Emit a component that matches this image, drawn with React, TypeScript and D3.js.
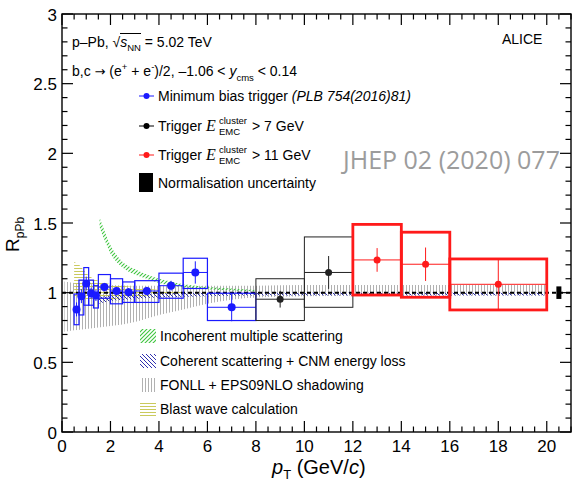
import React from "react";
import * as d3 from "d3";

// ---------- data ----------
const blueBinLo = [0.5, 0.7, 0.9, 1.1, 1.3, 1.5, 2.0, 2.5, 3.0, 4.0, 5.0, 6.0];
const blueBinHi = [0.7, 0.9, 1.1, 1.3, 1.5, 2.0, 2.5, 3.0, 4.0, 5.0, 6.0, 8.0];
const bluePt = [0.6, 0.8, 1.0, 1.2, 1.4, 1.75, 2.25, 2.75, 3.5, 4.5, 5.5, 7.0];
const blueR = [0.88, 0.975, 1.065, 0.995, 0.98, 1.04, 1.012, 1.003, 1.012, 1.05, 1.145, 0.895];
const blueStat = [0.05, 0.05, 0.05, 0.04, 0.04, 0.03, 0.03, 0.03, 0.03, 0.035, 0.08, 0.1];
const blueSysLo = [0.77, 0.84, 0.91, 0.91, 0.89, 0.96, 0.92, 0.93, 0.93, 0.96, 1.03, 0.80];
const blueSysHi = [0.99, 1.09, 1.18, 1.09, 1.05, 1.13, 1.10, 1.077, 1.086, 1.14, 1.247, 0.996];

const blackBinLo = [8, 10];
const blackBinHi = [10, 12];
const blackPt = [9, 11];
const blackR = [0.953, 1.145];
const blackStat = [0.06, 0.118];
const blackSysLo = [0.80, 0.895];
const blackSysHi = [1.10, 1.40];

const redBinLo = [12, 14, 16];
const redBinHi = [14, 16, 20];
const redPt = [13, 15, 18];
const redR = [1.235, 1.204, 1.06];
const redStat = [0.085, 0.12, 0.18];
const redSysLo = [0.983, 0.967, 0.876];
const redSysHi = [1.49, 1.434, 1.242];

const normPt = 20.5;
const normLo = 0.955;
const normHi = 1.045;

// models
const incohPt = [1.55, 1.7, 1.85, 2.0, 2.25, 2.5, 2.75, 3.0, 3.5, 4.0, 4.5, 5.0, 5.5, 6.0, 7.0, 8.0];
const incohHi = [1.54, 1.47, 1.40, 1.34, 1.27, 1.22, 1.19, 1.17, 1.13, 1.10, 1.08, 1.06, 1.05, 1.04, 1.03, 1.02];
const incohLo = [1.47, 1.40, 1.34, 1.28, 1.22, 1.18, 1.15, 1.13, 1.10, 1.07, 1.05, 1.04, 1.03, 1.025, 1.015, 1.01];

const cohPt = [1.5, 2, 3, 4, 6, 8, 12, 16, 20];
const cohLo = [0.92, 0.94, 0.955, 0.965, 0.975, 0.98, 0.98, 0.98, 0.98];
const cohHi = [0.97, 0.98, 0.99, 0.995, 1.0, 1.0, 1.0, 1.0, 1.0];

const fonllPt = [0.1, 0.5, 1, 1.5, 2, 3, 4, 5, 6, 7, 8, 10, 14, 20];
const fonllLo = [0.72, 0.73, 0.74, 0.75, 0.76, 0.79, 0.84, 0.88, 0.92, 0.95, 0.965, 0.975, 0.98, 0.98];
const fonllHi = [1.08, 1.07, 1.06, 1.06, 1.055, 1.05, 1.05, 1.05, 1.05, 1.05, 1.05, 1.055, 1.055, 1.055];

const blastPt = [0.5, 0.7, 1.0, 1.3, 1.6, 2.0, 2.5, 3.0, 3.5, 4.0, 5.0];
const blastLo = [0.97, 0.96, 0.95, 0.95, 0.95, 0.955, 0.96, 0.97, 0.98, 0.985, 0.99];
const blastHi = [1.22, 1.2, 1.14, 1.1, 1.08, 1.06, 1.05, 1.04, 1.03, 1.02, 1.01];

const xTicks = [0, 2, 4, 6, 8, 10, 12, 14, 16, 18, 20];
const yTicks = [0, 0.5, 1, 1.5, 2, 2.5, 3];
const yTickLabels = ["0", "0.5", "1", "1.5", "2", "2.5", "3"];

const triggerThresholds = ["> 7 GeV", "> 11 GeV"];
const modelLabels = [
  "Incoherent multiple scattering",
  "Coherent scattering + CNM energy loss",
  "FONLL + EPS09NLO shadowing",
  "Blast wave calculation",
];
const modelFills = ["url(#hGreen)", "url(#hBlue)", "url(#hGray)", "url(#hYellow)"];

// ---------- layout ----------
const W = 577, H = 490;
const L = 62, R = 571, T = 14, B = 432;
const x = d3.scaleLinear().domain([0, 21]).range([L, R]);
const y = d3.scaleLinear().domain([0, 3]).range([B, T]);

const FONT = "'Liberation Sans', Arial, Helvetica, sans-serif";
const SERIF = "'Liberation Serif', 'Times New Roman', serif";
const BLUE = "#1a1aff";
const RED = "#ff1a1a";

function band(pt: number[], lo: number[], hi: number[]) {
  const pts = pt.map((p, i) => ({ p, lo: lo[i], hi: hi[i] }));
  return d3.area<any>().x((d) => x(d.p)).y0((d) => y(d.lo)).y1((d) => y(d.hi)).curve(d3.curveMonotoneX)(pts) || "";
}

function Series({ lo, hi, pt, r, stat, sLo, sHi, color, boxW, lineW, rad }: any) {
  return (
    <g>
      {pt.map((p: number, i: number) => (
        <g key={i}>
          <rect x={x(lo[i])} y={y(sHi[i])} width={x(hi[i]) - x(lo[i])} height={y(sLo[i]) - y(sHi[i])}
            fill="none" stroke={color} strokeWidth={boxW} />
          <line x1={x(lo[i])} x2={x(hi[i])} y1={y(r[i])} y2={y(r[i])} stroke={color} strokeWidth={lineW} />
          <line x1={x(p)} x2={x(p)} y1={y(r[i] - stat[i])} y2={y(r[i] + stat[i])} stroke={color} strokeWidth={lineW} />
          <circle cx={x(p)} cy={y(r[i])} r={rad} fill={color} />
        </g>
      ))}
    </g>
  );
}

export default function App() {
  const xMinor = d3.range(0, 21.01, 0.5);
  const yMinor = d3.range(0, 3.001, 0.1);
  const legY = [96, 126, 155];
  const modY = [336, 361, 385, 409];
  return (
    <svg width={W} height={H} style={{ position: "absolute", left: 0, top: 0, background: "#fff" }} fontFamily={FONT}>
      <defs>
        <clipPath id="plotClip"><rect x={L} y={T} width={R - L} height={B - T} /></clipPath>
        <pattern id="hGreen" patternUnits="userSpaceOnUse" width="4" height="4">
          <path d="M-1,1 l2,-2 M0,4 l4,-4 M3,5 l2,-2" stroke="#3fc43f" strokeWidth="1.1" />
        </pattern>
        <pattern id="hBlue" patternUnits="userSpaceOnUse" width="4" height="4">
          <path d="M-1,3 l2,2 M0,0 l4,4 M3,-1 l2,2" stroke="#3030b0" strokeWidth="1" />
        </pattern>
        <pattern id="hGray" patternUnits="userSpaceOnUse" width="3" height="3">
          <line x1="1.5" y1="0" x2="1.5" y2="3" stroke="#a8a8a8" strokeWidth="0.9" />
        </pattern>
        <pattern id="hYellow" patternUnits="userSpaceOnUse" width="3" height="3">
          <line x1="0" y1="1.5" x2="3" y2="1.5" stroke="#c4c44a" strokeWidth="0.9" />
        </pattern>
      </defs>

      {/* model bands */}
      <g clipPath="url(#plotClip)">
        <path d={band(fonllPt, fonllLo, fonllHi)} fill="url(#hGray)" />
        <path d={band(blastPt, blastLo, blastHi)} fill="url(#hYellow)" />
        <path d={band(cohPt, cohLo, cohHi)} fill="url(#hBlue)" />
        <path d={band(incohPt, incohLo, incohHi)} fill="url(#hGreen)" />
        <line x1={L} x2={R} y1={y(1)} y2={y(1)} stroke="#000" strokeWidth={2} strokeDasharray="4 3" />
      </g>

      {/* data */}
      <Series lo={blueBinLo} hi={blueBinHi} pt={bluePt} r={blueR} stat={blueStat} sLo={blueSysLo} sHi={blueSysHi}
        color={BLUE} boxW={1.2} lineW={1} rad={4} />
      <Series lo={blackBinLo} hi={blackBinHi} pt={blackPt} r={blackR} stat={blackStat} sLo={blackSysLo} sHi={blackSysHi}
        color="#222" boxW={1} lineW={1} rad={3.5} />
      <Series lo={redBinLo} hi={redBinHi} pt={redPt} r={redR} stat={redStat} sLo={redSysLo} sHi={redSysHi}
        color={RED} boxW={2.8} lineW={1} rad={3.5} />
      <rect x={x(normPt) - 2.5} y={y(normHi)} width={5} height={y(normLo) - y(normHi)} fill="#000" />

      {/* frame & ticks */}
      <rect x={L} y={T} width={R - L} height={B - T} fill="none" stroke="#000" strokeWidth={1.4} />
      {xMinor.map((v, i) => {
        const major = Math.abs(v / 2 - Math.round(v / 2)) < 1e-6;
        const len = major ? 11 : 5.5;
        return (
          <g key={"xt" + i} stroke="#000" strokeWidth={1.2}>
            <line x1={x(v)} x2={x(v)} y1={B} y2={B - len} />
            <line x1={x(v)} x2={x(v)} y1={T} y2={T + len} />
          </g>
        );
      })}
      {yMinor.map((v, i) => {
        const major = Math.abs(v / 0.5 - Math.round(v / 0.5)) < 1e-6;
        const len = major ? 11 : 5.5;
        return (
          <g key={"yt" + i} stroke="#000" strokeWidth={1.2}>
            <line x1={L} x2={L + len} y1={y(v)} y2={y(v)} />
            <line x1={R} x2={R - len} y1={y(v)} y2={y(v)} />
          </g>
        );
      })}
      {xTicks.map((v) => (
        <text key={"xl" + v} x={x(v)} y={452} fontSize={17} textAnchor="middle">{v}</text>
      ))}
      {yTicks.map((v, i) => (
        <text key={"yl" + v} x={57} y={y(v) + 6.5} fontSize={17} textAnchor="end">{yTickLabels[i]}</text>
      ))}

      {/* axis titles */}
      <text x={272} y={474} fontSize={20}>
        <tspan fontStyle="italic">p</tspan>
        <tspan fontSize={13} dy={5}>T</tspan>
        <tspan dy={-5}> (GeV/</tspan>
        <tspan fontStyle="italic">c</tspan>
        <tspan>)</tspan>
      </text>
      <text transform="translate(19,252) rotate(-90)" fontSize={19}>
        R<tspan fontSize={12} dy={5}>pPb</tspan>
      </text>

      {/* header texts */}
      <text x={72} y={47} fontSize={14}>
        p–Pb, √<tspan fontStyle="italic">s</tspan><tspan fontSize={9.5} dy={4}>NN</tspan><tspan dy={-4}> = 5.02 TeV</tspan>
      </text>
      <line x1={120} x2={141} y1={33.5} y2={33.5} stroke="#000" strokeWidth={1} />
      <text x={72} y={76} fontSize={14}>
        b,c <tspan fontFamily="'DejaVu Sans', sans-serif" fontSize={13}>→</tspan> (e<tspan fontSize={9.5} dy={-6}>+</tspan><tspan dy={6}> + e</tspan><tspan fontSize={9.5} dy={-6}>-</tspan>
        <tspan dy={6}>)/2, –1.06 &lt; </tspan><tspan fontStyle="italic">y</tspan>
        <tspan fontSize={9.5} dy={5}>cms</tspan><tspan dy={-5}> &lt; 0.14</tspan>
      </text>
      <text x={502} y={44} fontSize={14}>ALICE</text>

      {/* data legend */}
      {[BLUE, "#000", RED].map((c, i) => (
        <g key={"lg" + i}>
          <line x1={139} x2={154} y1={legY[i]} y2={legY[i]} stroke={c} strokeWidth={1} />
          <circle cx={146.5} cy={legY[i]} r={3} fill={c} />
        </g>
      ))}
      <text x={158} y={legY[0] + 5} fontSize={14}>
        Minimum bias trigger <tspan fontStyle="italic">(PLB 754(2016)81)</tspan>
      </text>
      {triggerThresholds.map((thr, i) => (
        <g key={"tr" + i}>
          <text x={158} y={legY[i + 1] + 5} fontSize={14}>Trigger</text>
          <text x={206} y={legY[i + 1] + 5} fontSize={16} fontStyle="italic" fontFamily={SERIF}>E</text>
          <text x={219} y={legY[i + 1] - 2} fontSize={9.5}>cluster</text>
          <text x={219} y={legY[i + 1] + 9} fontSize={9.5}>EMC</text>
          <text x={252} y={legY[i + 1] + 5} fontSize={14}>{thr}</text>
        </g>
      ))}
      <rect x={139} y={173} width={14} height={19} fill="#000" />
      <text x={158} y={188} fontSize={14}>Normalisation uncertainty</text>

      {/* model legend */}
      {modelLabels.map((lab, i) => (
        <g key={"ml" + i}>
          <rect x={140} y={modY[i] - 7} width={16} height={14} fill={modelFills[i]} />
          <text x={160} y={modY[i] + 5} fontSize={14}>{lab}</text>
        </g>
      ))}

      {/* watermark */}
      <text x={343} y={169} fontSize={25} fill="#9c9c9c" fontFamily="'Open Sans', 'Noto Sans', sans-serif">JHEP 02 (2020) 077</text>
    </svg>
  );
}
